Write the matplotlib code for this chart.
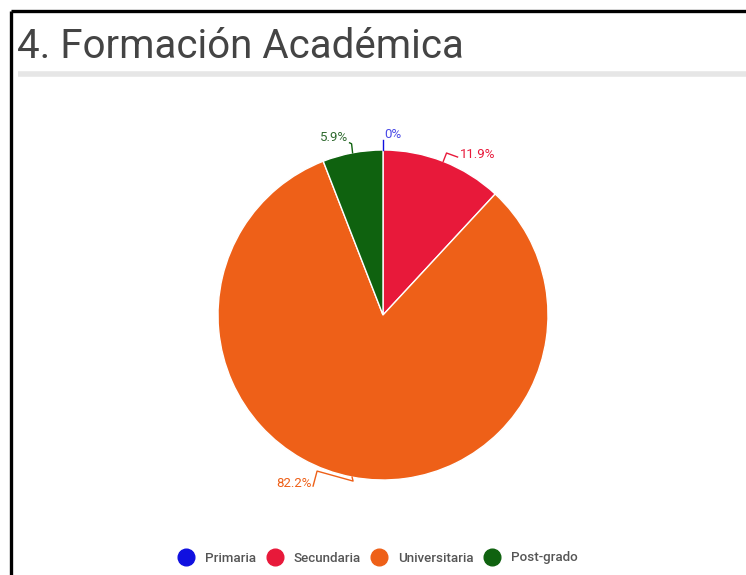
import numpy as np
import matplotlib
matplotlib.use("Agg")
import matplotlib.pyplot as plt
from matplotlib.lines import Line2D

# ---- data ----
categories = ["Primaria", "Secundaria", "Universitaria", "Post-grado"]
values = [0.0, 11.9, 82.2, 5.9]
colors = ["#1010e0", "#e8193a", "#ee6018", "#0f620f"]
label_colors = ["#4a4ae6", "#e8193a", "#ee6018", "#2f6a2f"]
title = "4. Formación Académica"

W, H = 746, 575
fig = plt.figure(figsize=(W / 100, H / 100), dpi=100)
fig.patch.set_facecolor("white")

def fx(px):
    return px / W

def fy(py):
    return 1 - py / H

# border (black) on top and left
fig.add_artist(Line2D([fx(11), fx(W + 5)], [fy(11), fy(11)], color="black", lw=2.4,
                      transform=fig.transFigure, solid_capstyle="butt"))
fig.add_artist(Line2D([fx(11), fx(11)], [fy(11), fy(H + 5)], color="black", lw=2.4,
                      transform=fig.transFigure, solid_capstyle="butt"))

# title and separator
fig.text(fx(17), fy(58), title, fontsize=29, family="Roboto", color="#444444",
         ha="left", va="baseline")
fig.add_artist(Line2D([fx(18), fx(W)], [fy(74), fy(74)], color="#e6e6e6", lw=4,
                      transform=fig.transFigure, solid_capstyle="butt"))

# pie axes: center (383,315), radius 165 px
cx, cy, R = 383, 315, 165
ax = fig.add_axes([fx(cx - R), fy(cy + R), 2 * R / W, 2 * R / H])
ax.set_aspect("equal")
ax.axis("off")

wedges, _ = ax.pie(values, colors=colors, startangle=90, counterclock=False,
                   radius=1, center=(0, 0),
                   wedgeprops=dict(edgecolor="white", linewidth=1))
ax.set_xlim(-1, 1)
ax.set_ylim(-1, 1)

px = 1.0 / R  # one pixel in data units
fs = 9.5
for w, v, lc, c in zip(wedges, values, label_colors, colors):
    mid = np.deg2rad((w.theta1 + w.theta2) / 2)
    ex, ey = np.cos(mid), np.sin(mid)
    txt = f"{v:g}%"
    if ex > 0.3:  # right side
        x1, y1 = (1 + 9 * px) * ex, (1 + 9 * px) * ey
        x2, y2 = x1 + 11 * px, y1 - 4 * px
        ax.plot([ex, x1, x2], [ey, y1, y2], color=c, lw=1, clip_on=False)
        ax.text(x2 + 2 * px, y2 + 3 * px, txt, color=lc, fontsize=fs, family="Roboto",
                ha="left", va="center")
    elif ey < -0.5:  # bottom
        x1, y1 = ex + 1 * px, ey - 4 * px
        x2, y2 = x1 - 36 * px, y1 + 10 * px
        x3, y3 = x2 - 4 * px, y2 - 15 * px
        ax.plot([ex, x1, x2, x3], [ey, y1, y2, y3], color=c, lw=1, clip_on=False)
        ax.text(x3 - 1 * px, y3 + 3 * px, txt, color=lc, fontsize=fs, family="Roboto",
                ha="right", va="center")
    elif abs(ex) < 0.05:  # top (zero slice)
        x1, y1 = ex, ey + 10 * px
        ax.plot([ex, x1], [ey, y1], color=c, lw=1, clip_on=False)
        ax.text(x1 + 1 * px, y1 + 5 * px, txt, color=lc, fontsize=fs, family="Roboto",
                ha="left", va="center")
    else:  # top-left
        x1, y1 = ex - 1 * px, ey + 9 * px
        x2, y2 = x1 - 2 * px, y1 + 1 * px
        ax.plot([ex, x1, x2], [ey, y1, y2], color=c, lw=1, clip_on=False)
        ax.text(x2 - 1 * px, y2 + 5 * px, txt, color=lc, fontsize=fs, family="Roboto",
                ha="right", va="center")

# legend
handles = [Line2D([], [], marker="o", linestyle="none", markersize=12,
                  markerfacecolor=c, markeredgecolor=c) for c in colors]
leg = fig.legend(handles, categories, loc="center", ncol=4,
                 bbox_to_anchor=(fx(378), fy(558)), frameon=False,
                 handlelength=1.2, handletextpad=0.8, columnspacing=0.8,
                 prop=dict(family="Roboto", size=9.6, weight="medium"))
for t in leg.get_texts():
    t.set_color("#555555")

fig.savefig("out.png", dpi=100, facecolor="white")
